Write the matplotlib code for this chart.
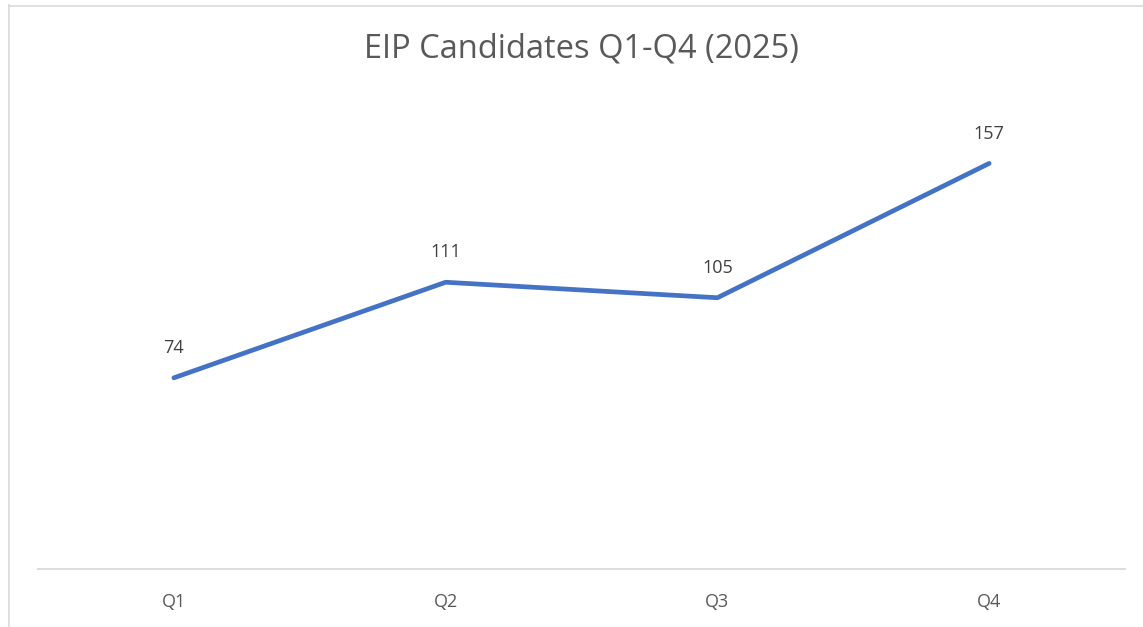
import matplotlib
matplotlib.use('Agg')
import matplotlib.pyplot as plt
from matplotlib.lines import Line2D

quarters = ['Q1', 'Q2', 'Q3', 'Q4']
candidates = [74, 111, 105, 157]

W, H = 1143, 627
fig = plt.figure(figsize=(W / 100, H / 100), dpi=100)
plt.rcParams['font.family'] = ['Open Sans', 'DejaVu Sans']

ax = fig.add_axes([38 / W, 1 - 569 / H, (1125 - 38) / W, (569 - 104) / H])
x = list(range(len(quarters)))
ax.plot(x, candidates, color='#4472C4', lw=3.4, solid_capstyle='round')
for xi, v in zip(x, candidates):
    ax.annotate(str(v), (xi, v), xytext=(0, 15), textcoords='offset points',
                ha='center', va='bottom', fontsize=13, color='#404040')

ax.set_xlim(-0.5, 3.5)
ax.set_ylim(0, 180)
ax.set_xticks(x)
ax.set_xticklabels(quarters, fontsize=13, color='#595959')
ax.tick_params(axis='x', length=0, pad=17)
ax.set_yticks([])
for s in ['top', 'right', 'left']:
    ax.spines[s].set_visible(False)
ax.spines['bottom'].set_color('#D9D9D9')
ax.spines['bottom'].set_linewidth(1.3)

fig.text(581 / W, 1 - 49 / H, 'EIP Candidates Q1-Q4 (2025)', ha='center', va='center',
         fontsize=23.5, color='#595959')

# chart frame (left and top edges visible)
fig.add_artist(Line2D([8.5 / W, 8.5 / W], [0, 1 - 5 / H], transform=fig.transFigure,
                      color='#D9D9D9', lw=1.2))
fig.add_artist(Line2D([8.5 / W, 1], [1 - 5.5 / H, 1 - 5.5 / H], transform=fig.transFigure,
                      color='#D9D9D9', lw=1.2))

fig.savefig('out.png', dpi=100)
